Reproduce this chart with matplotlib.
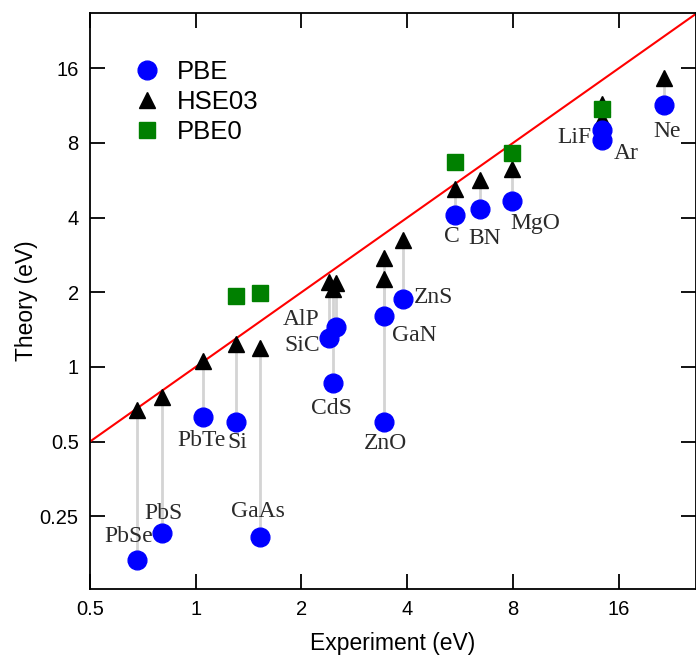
import matplotlib.pyplot as plt
from matplotlib.ticker import FixedLocator, FixedFormatter, NullLocator

# Band gaps (eV): experiment vs. theory
materials = ["PbSe", "PbS", "PbTe", "Si", "GaAs", "AlP", "SiC", "CdS", "ZnO", "GaN",
             "ZnS", "C", "BN", "MgO", "LiF", "Ar", "Ne"]
expt = [0.68, 0.80, 1.05, 1.30, 1.52, 2.50, 2.40, 2.46, 3.44, 3.44,
        3.90, 5.48, 6.42, 7.93, 14.3, 14.3, 21.5]
pbe = [0.167, 0.214, 0.63, 0.60, 0.207, 1.45, 1.31, 0.86, 0.60, 1.60,
       1.88, 4.10, 4.32, 4.68, 9.02, 8.22, 11.4]
hse = [0.67, 0.76, 1.06, 1.24, 1.19, 2.18, 2.20, 2.06, 2.26, 2.74,
       3.25, 5.20, 5.67, 6.26, 11.5, 10.0, 14.6]
pbe0_names = ["Si", "GaAs", "C", "MgO", "LiF"]
pbe0 = [1.93, 1.99, 6.72, 7.26, 11.0]

# label offsets (pixels) relative to the PBE point
label_offsets = {
    "PbSe": (-8, 23), "PbS": (2, 20), "PbTe": (-2, -24), "Si": (2, -20),
    "GaAs": (-2, 25), "AlP": (-34, 7), "SiC": (-27, -8), "CdS": (-2, -25),
    "ZnO": (1, -21), "GaN": (30, -19), "ZnS": (30, 1), "C": (-3, -22),
    "BN": (5, -29), "MgO": (24, -23), "LiF": (-27, -8), "Ar": (24, -14),
    "Ne": (3, -27),
}

sans = "Liberation Sans"
serif = "Liberation Serif"

fig = plt.figure(figsize=(6.96, 6.55), dpi=100)
ax = fig.add_axes([0.129, 0.1008, 0.871, 0.8794])
ax.set_xscale("log", base=2)
ax.set_yscale("log", base=2)
ax.set_xlim(0.5, 26.5)
ax.set_ylim(0.1275, 26.7)

# y = x reference line
ax.plot([0.5, 27], [0.5, 27], color="red", lw=1.5, zorder=2)

# gray connectors PBE -> HSE03
for x, y1, y2 in zip(expt, pbe, hse):
    ax.plot([x, x], [y1, y2], color="#d4d4d4", lw=2, zorder=1)

ax.plot(expt, pbe, "o", color="blue", ms=13.5, ls="none", label="PBE", zorder=4)
ax.plot(expt, hse, "^", color="black", ms=12, ls="none", label="HSE03", zorder=3)
pbe0_x = [expt[materials.index(n)] for n in pbe0_names]
ax.plot(pbe0_x, pbe0, "s", color="green", ms=11, ls="none", label="PBE0", zorder=5)

for name, x, y in zip(materials, expt, pbe):
    dx, dy = label_offsets[name]
    ax.annotate(name, (x, y), xytext=(dx, dy), textcoords="offset pixels",
                ha="center", va="center", fontsize=17, family=serif,
                color="#2a2a2a", zorder=6)

ticks = [0.25, 0.5, 1, 2, 4, 8, 16]
labels = ["0.25", "0.5", "1", "2", "4", "8", "16"]
ax.xaxis.set_major_locator(FixedLocator(ticks[1:]))
ax.xaxis.set_major_formatter(FixedFormatter(labels[1:]))
ax.yaxis.set_major_locator(FixedLocator(ticks))
ax.yaxis.set_major_formatter(FixedFormatter(labels))
ax.xaxis.set_minor_locator(NullLocator())
ax.yaxis.set_minor_locator(NullLocator())
ax.tick_params(which="major", direction="in", length=11, width=1.3,
               top=True, right=True, labelsize=14.5, pad=8)
for lab in ax.get_xticklabels() + ax.get_yticklabels():
    lab.set_family(sans)
for s in ax.spines.values():
    s.set_linewidth(1.3)

ax.set_xlabel("Experiment (eV)", fontsize=16.5, family=sans, labelpad=9)
ax.set_ylabel("Theory (eV)", fontsize=16.5, family=sans, labelpad=1)

leg = ax.legend(loc="upper left", frameon=False, bbox_to_anchor=(0.03, 0.958),
                prop={"family": sans, "size": 18.5}, handletextpad=0.6,
                labelspacing=0.22, handlelength=1.2, numpoints=1)

fig.savefig("out.png", dpi=100)
